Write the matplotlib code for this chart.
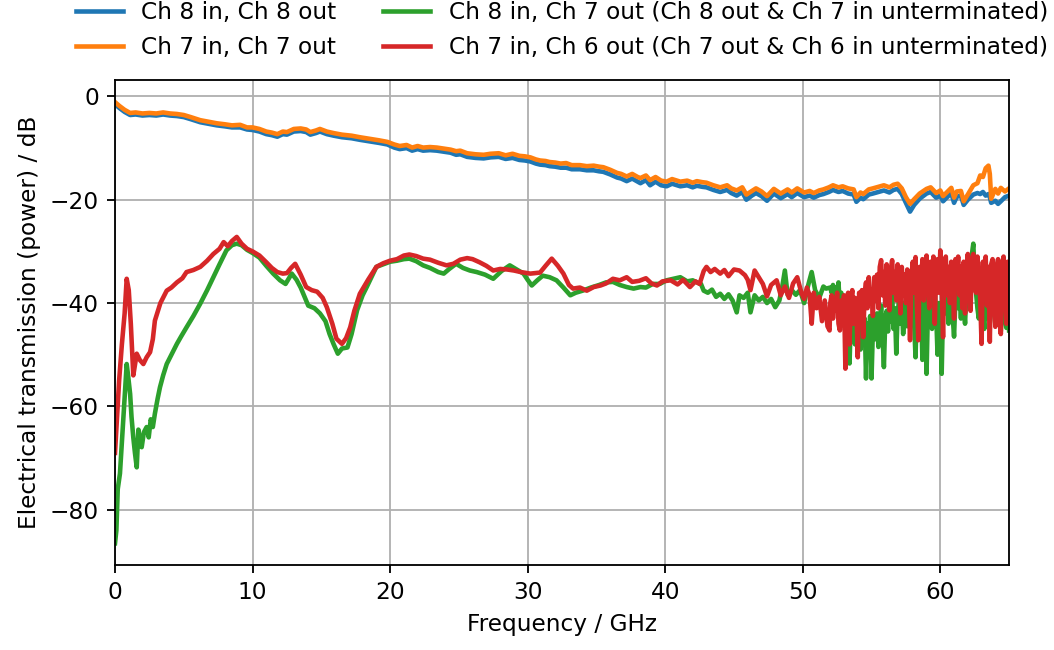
import matplotlib
matplotlib.use("Agg")
import matplotlib.pyplot as plt
import numpy as np

plt.rcParams["font.size"] = 10.2
plt.rcParams["lines.linewidth"] = 2.0

# Ch 8 in / Ch 8 out and Ch 7 in / Ch 7 out share one frequency grid (GHz)
freq_thru = [
    0, 0.3, 0.7, 1.1, 1.5, 2.0, 2.5, 3.0, 3.5, 4.0, 4.5, 5.0, 5.5, 6.2, 6.8, 7.4, 8.0, 8.5, 9.1, 9.6,
    10.0, 10.5, 11.0, 11.4, 11.8, 12.2, 12.5, 13.0, 13.5, 13.9, 14.2, 14.6, 14.9, 15.4, 15.9, 16.5, 17.2, 17.8, 18.5, 19.2,
    19.8, 20.3, 20.7, 21.2, 21.6, 22.0, 22.4, 22.9, 23.4, 23.9, 24.4, 24.8, 25.1, 25.6, 26.2, 26.8, 27.3, 27.9, 28.4, 28.9,
    29.4, 29.8, 30.2, 30.6, 30.9, 31.3, 31.6, 32.0, 32.4, 32.8, 33.2, 33.8, 34.3, 34.8, 35.2, 35.5, 36.0, 36.5, 36.8, 37.2,
    37.6, 38.0, 38.2, 38.6, 38.9, 39.3, 39.7, 40.1, 40.5, 41.1, 41.6, 42.0, 42.3, 42.7, 43.0, 43.5, 44.0, 44.5, 44.8, 45.2,
    45.6, 45.9, 46.3, 46.6, 47.0, 47.4, 47.9, 48.4, 48.9, 49.2, 49.6, 50.1, 50.5, 50.8, 51.2, 51.5, 51.9, 52.2, 52.6, 52.9,
    53.3, 53.7, 53.9, 54.2, 54.4, 54.8, 55.1, 55.5, 55.9, 56.3, 56.6, 56.9, 57.2, 57.5, 57.8, 58.1, 58.5, 59.0, 59.3, 59.7,
    60.0, 60.2, 60.5, 60.8, 61.0, 61.2, 61.5, 61.7, 62.0, 62.4, 62.7, 62.9, 63.1, 63.3, 63.5, 63.6, 63.7, 64.0, 64.2, 64.4,
    64.7, 65.0,
]
ch8_ch8 = [
    -1.5, -2.2, -3.0, -3.6, -3.5, -3.7, -3.6, -3.7, -3.5, -3.7, -3.8, -4.0, -4.4, -5.0, -5.3, -5.6, -5.8, -6.0, -6.0, -6.4,
    -6.5, -6.8, -7.3, -7.5, -7.8, -7.3, -7.4, -6.8, -6.7, -6.9, -7.4, -7.1, -6.8, -7.3, -7.6, -7.9, -8.1, -8.4, -8.7, -9.0,
    -9.3, -9.9, -10.2, -10.0, -10.5, -10.2, -10.5, -10.4, -10.5, -10.7, -10.9, -11.3, -11.2, -11.7, -11.9, -12.0, -11.8, -11.7, -12.1, -11.9,
    -12.3, -12.4, -12.6, -13.0, -13.2, -13.3, -13.5, -13.6, -13.8, -13.8, -14.1, -14.1, -14.3, -14.3, -14.5, -14.6, -15.1, -15.7, -15.9, -16.4,
    -15.9, -16.5, -16.8, -16.2, -17.2, -16.5, -17.2, -17.4, -16.9, -17.4, -17.2, -17.6, -17.3, -17.5, -17.6, -18.1, -18.5, -18.1, -18.7, -19.2,
    -18.5, -20.0, -19.2, -18.7, -19.3, -20.2, -18.8, -19.7, -18.9, -19.5, -18.7, -19.5, -19.2, -19.6, -19.1, -18.9, -18.5, -18.1, -18.5, -18.3,
    -18.8, -19.0, -20.4, -19.6, -19.9, -19.0, -18.8, -18.5, -18.2, -18.6, -18.1, -17.9, -18.9, -20.6, -22.3, -21.0, -19.8, -18.8, -18.5, -19.6,
    -19.2, -20.3, -19.5, -18.7, -20.6, -19.4, -19.2, -21.0, -20.0, -19.0, -18.7, -18.9, -18.5, -19.2, -18.9, -19.5, -20.6, -20.2, -20.8, -20.3,
    -19.5, -19.2,
]
ch7_ch7 = [
    -1.1, -1.8, -2.6, -3.2, -3.1, -3.3, -3.2, -3.3, -3.1, -3.3, -3.4, -3.6, -4.0, -4.6, -4.9, -5.2, -5.4, -5.6, -5.5, -6.0,
    -6.0, -6.3, -6.8, -7.0, -7.3, -6.8, -6.9, -6.3, -6.2, -6.4, -6.9, -6.6, -6.3, -6.8, -7.1, -7.4, -7.6, -7.9, -8.2, -8.5,
    -8.8, -9.3, -9.6, -9.4, -9.9, -9.6, -9.9, -9.8, -9.9, -10.1, -10.3, -10.6, -10.5, -11.0, -11.2, -11.3, -11.1, -11.0, -11.4, -11.1,
    -11.5, -11.6, -11.8, -12.2, -12.4, -12.5, -12.7, -12.8, -13.0, -12.9, -13.3, -13.3, -13.5, -13.4, -13.6, -13.7, -14.2, -14.8, -15.0, -15.5,
    -15.0, -15.6, -15.8, -15.3, -16.2, -15.6, -16.3, -16.5, -16.0, -16.5, -16.3, -16.7, -16.4, -16.6, -16.7, -17.2, -17.6, -17.2, -17.8, -18.2,
    -17.6, -19.0, -18.3, -17.8, -18.4, -19.3, -17.9, -18.8, -18.0, -18.6, -17.8, -18.6, -18.3, -18.7, -18.2, -18.0, -17.6, -17.2, -17.6, -17.4,
    -17.8, -18.0, -19.5, -18.6, -18.9, -18.0, -17.8, -17.5, -17.2, -17.6, -17.1, -16.9, -17.8, -19.5, -20.8, -19.9, -18.8, -17.9, -17.6, -18.7,
    -18.2, -19.3, -18.5, -17.7, -19.6, -18.4, -18.3, -20.3, -19.0, -17.2, -16.8, -15.3, -15.6, -13.9, -13.4, -15.0, -19.8, -17.9, -18.8, -17.7,
    -18.4, -17.8,
]

# Ch 8 in, Ch 7 out: 0 - 51.7 GHz (irregular) + 52.0 - 65.0 GHz (0.1 GHz steps)
freq_ch8_ch7_low = [
    0.0, 0.1, 0.2, 0.36, 0.5, 0.6, 0.75, 0.85, 0.95, 1.1, 1.2, 1.33, 1.45, 1.58, 1.7, 1.82, 1.94, 2.1, 2.3, 2.45,
    2.6, 2.75, 2.9, 3.1, 3.27, 3.5, 3.76, 4.1, 4.5, 4.8, 5.2, 5.7, 6.2, 6.7, 7.15, 7.6, 8.1, 8.5, 8.85, 9.2,
    9.6, 10.0, 10.5, 11.0, 11.5, 12.0, 12.4, 12.85, 13.2, 13.5, 14.05, 14.5, 14.9, 15.3, 15.6, 15.9, 16.2, 16.5, 16.9, 17.2,
    17.6, 18.0, 18.3, 19.0, 19.5, 20.0, 20.5, 21.0, 21.4, 21.9, 22.4, 22.9, 23.5, 23.9, 24.3, 24.8, 25.3, 25.8, 26.3, 26.9,
    27.5, 28.1, 28.7, 29.2, 29.7, 30.0, 30.3, 30.7, 31.1, 31.6, 32.1, 32.6, 33.1, 33.5, 34.0, 34.6, 35.2, 35.7, 36.2, 36.7,
    37.2, 37.7, 38.2, 38.6, 39.1, 39.6, 40.1, 40.6, 41.1, 41.6, 42.0, 42.3, 42.6, 42.8, 43.1, 43.4, 43.7, 44.0, 44.3, 44.6,
    44.9, 45.2, 45.4, 45.7, 46.0, 46.2, 46.5, 46.8, 47.1, 47.4, 47.7, 48.0, 48.3, 48.5, 48.7, 48.9, 49.2, 49.5, 49.8, 50.1,
    50.4, 50.65, 50.9, 51.2, 51.5, 51.7,
]
ch8_ch7_low = [
    -86.5, -84, -76, -73, -67, -63, -56, -51.8, -54, -57.6, -62, -66, -69, -71.8, -64.5, -66.5, -67.9, -65, -64, -66,
    -62.5, -64, -61.4, -58.5, -56.3, -54, -51.8, -50, -47.9, -46.5, -44.7, -42.5, -40.1, -37.5, -35, -32.5, -29.8, -28.8, -28.5, -28.8,
    -29.7, -30.3, -31.2, -32.8, -34.3, -35.6, -36.3, -34.3, -35.5, -37.0, -40.5, -41.0, -42.0, -43.5, -46.0, -48.0, -49.8, -48.8, -48.6, -46.0,
    -41.4, -38.5, -36.9, -33.0, -32.5, -32.0, -31.8, -31.5, -31.4, -31.9, -32.7, -33.2, -34.0, -34.3, -33.4, -32.4, -33.2, -33.7, -34.0, -34.5,
    -35.3, -33.8, -32.7, -33.5, -34.3, -35.5, -36.6, -35.6, -34.7, -35.0, -35.6, -37.0, -38.5, -38.0, -37.6, -37.0, -36.5, -36.0, -35.9, -36.5,
    -36.9, -37.2, -36.9, -37.0, -36.3, -36.3, -35.6, -35.3, -35.0, -35.8, -35.6, -36.0, -36.3, -37.6, -38.0, -37.4, -38.8, -38.2, -39.2, -38.3,
    -39.5, -41.8, -38.5, -39.0, -38.0, -41.8, -38.5, -39.5, -38.8, -40.0, -39.2, -40.8, -39.5, -37.0, -33.7, -38.4, -37.5, -38.4, -37.5, -40.0,
    -36.5, -34.0, -37.5, -39.0, -36.8, -37.2,
]
ch8_ch7_high = [
    -37.0, -38.0, -36.5, -39.5, -37.0, -38.5, -36.0, -41.0, -38.0, -43.0,
    -39.0, -46.0, -42.0, -47.0, -51.7, -43.0, -46.0, -41.5, -48.0, -43.0,
    -40.5, -46.0, -49.0, -42.0, -45.0, -43.0, -54.6, -44.0, -46.5, -42.5,
    -54.6, -45.0, -43.0, -47.0, -42.0, -48.5, -44.0, -40.5, -46.0, -52.4,
    -43.0, -41.5, -45.5, -40.0, -43.5, -38.5, -45.0, -41.0, -49.8, -42.0,
    -39.5, -44.0, -40.0, -46.0, -41.5, -39.5, -44.5, -40.0, -37.0, -42.5,
    -38.5, -44.0, -50.5, -40.0, -36.5, -43.0, -39.0, -51.0, -41.0, -38.0,
    -53.7, -41.0, -37.5, -43.5, -45.0, -39.0, -38.0, -42.0, -50.0, -40.0,
    -43.5, -53.7, -41.0, -38.5, -42.0, -37.0, -44.0, -40.5, -38.0, -42.5,
    -46.5, -39.0, -36.5, -41.0, -38.5, -43.0, -38.0, -40.5, -44.0, -37.5,
    -39.5, -36.0, -33.0, -30.5, -28.5, -35.0, -38.0, -41.0, -43.0, -38.5,
    -37.5, -42.0, -45.0, -39.0, -38.5, -43.0, -40.5, -37.0, -36.0, -41.5,
    -44.0, -39.0, -38.0, -42.5, -45.5, -40.0, -39.0, -43.0, -44.8, -41.0,
    -45.3,
]

# Ch 7 in, Ch 6 out: 0 - 51.95 GHz (irregular) + 52.0 - 65.0 GHz (0.1 GHz steps)
freq_ch7_ch6_low = [
    0.0, 0.15, 0.3, 0.5, 0.7, 0.85, 1.0, 1.15, 1.33, 1.45, 1.58, 1.8, 2.06, 2.3, 2.55, 2.75, 2.9, 3.3, 3.76, 4.1,
    4.5, 4.9, 5.2, 5.7, 6.2, 6.7, 7.15, 7.6, 7.9, 8.2, 8.5, 8.85, 9.2, 9.6, 10.0, 10.5, 11.0, 11.4, 11.8, 12.2,
    12.5, 12.8, 13.1, 13.5, 13.9, 14.3, 14.7, 15.1, 15.4, 15.8, 16.1, 16.5, 16.8, 17.1, 17.4, 17.8, 18.4, 19.0, 19.5, 20.0,
    20.5, 21.0, 21.4, 21.9, 22.4, 22.9, 23.5, 24.1, 24.6, 25.1, 25.6, 26.0, 26.5, 27.0, 27.5, 28.0, 28.5, 29.0, 29.5, 30.2,
    30.9, 31.3, 31.75, 32.2, 32.6, 33.0, 33.3, 33.8, 34.3, 34.8, 35.3, 35.7, 36.2, 36.7, 37.2, 37.6, 38.1, 38.6, 39.0, 39.4,
    39.8, 40.4, 40.9, 41.3, 41.8, 42.2, 42.5, 42.8, 43.0, 43.3, 43.6, 44.0, 44.3, 44.6, 45.0, 45.4, 45.8, 46.0, 46.2, 46.5,
    46.8, 47.1, 47.4, 47.7, 48.1, 48.4, 48.7, 49.0, 49.3, 49.6, 49.9, 50.1, 50.3, 50.5, 50.65, 50.8, 51.0, 51.2, 51.4, 51.6,
    51.8, 51.95,
]
ch7_ch6_low = [
    -69, -62, -55, -48, -42, -35.3, -37.5, -44, -54, -52, -49.8, -51, -51.8, -50.5, -49.5, -47, -43.4, -40, -37.6, -37,
    -36, -35.2, -34, -33.6, -33, -31.8, -30.5, -29.5, -28.2, -29, -28, -27.2, -28.5, -29.5, -30, -30.8, -32.1, -33.2, -34, -34.3,
    -34.2, -33.2, -32.4, -34.5, -36.9, -37.5, -37.8, -39, -40.8, -44, -46.9, -47.9, -46.8, -44.7, -41.5, -38.2, -35.5, -33, -32.3, -31.8,
    -31.5, -30.8, -30.6, -30.9, -31.4, -31.6, -32.2, -32.7, -32.4, -31.6, -31.3, -31.5, -32.1, -32.8, -33.7, -33.4, -33.5, -33.7, -34.0, -34.3,
    -34.1, -32.8, -31.4, -32.8, -34.3, -36.5, -37.2, -37.0, -37.6, -36.9, -36.6, -36.2, -35.3, -35.6, -35.0, -35.9, -35.7, -35.2, -36.2, -36.6,
    -35.8, -35.6, -36.4, -35.5, -36.9, -35.8, -36.3, -33.8, -33.0, -34.0, -33.4, -34.3, -33.6, -34.8, -33.5, -33.7, -34.6, -35.5, -37.5, -33.7,
    -35.0, -36.3, -38.7, -36.5, -35.6, -38.5, -36.8, -39.0, -36.2, -35.0, -38.0, -39.2, -37.0, -38.5, -44.0, -38.0, -41.0, -38.8, -43.5, -39.5,
    -44.5, -45.3,
]
ch7_ch6_high = [
    -40.0, -38.5, -43.0, -39.0, -41.5, -38.0, -44.0, -45.3, -39.5, -42.0,
    -38.5, -52.7, -40.0, -38.0, -48.0, -39.5, -37.5, -44.0, -39.0, -41.0,
    -50.5, -38.0, -40.5, -37.5, -46.6, -38.0, -36.0, -41.0, -35.0, -40.0,
    -37.5, -42.5, -35.0, -39.5, -34.5, -41.0, -33.0, -31.7, -38.5, -34.0,
    -40.5, -32.5, -37.0, -41.4, -33.5, -31.7, -38.0, -34.0, -39.5, -32.5,
    -36.0, -42.0, -33.0, -38.5, -34.5, -40.0, -33.5, -36.5, -47.2, -35.0,
    -32.0, -38.0, -31.1, -40.5, -47.2, -33.0, -36.5, -31.5, -39.5, -33.0,
    -30.8, -37.0, -41.0, -32.0, -36.0, -31.0, -44.0, -33.5, -31.5, -38.0,
    -29.8, -36.0, -46.6, -32.0, -31.0, -38.5, -33.0, -40.0, -32.0, -36.5,
    -43.0, -31.5, -35.0, -31.0, -38.5, -33.0, -41.0, -32.0, -42.0, -34.5,
    -30.5, -37.0, -41.5, -31.5, -30.5, -36.0, -38.0, -31.0, -34.5, -39.0,
    -47.9, -32.0, -36.5, -31.0, -40.5, -33.0, -47.5, -32.5, -31.5, -38.0,
    -44.6, -33.0, -31.5, -39.5, -46.0, -32.5, -31.0, -37.0, -44.0, -32.0,
    -33.0,
]

labels = [
    "Ch 8 in, Ch 8 out",
    "Ch 7 in, Ch 7 out",
    "Ch 8 in, Ch 7 out (Ch 8 out & Ch 7 in unterminated)",
    "Ch 7 in, Ch 6 out (Ch 7 out & Ch 6 in unterminated)",
]

freq_high = np.round(np.arange(520, 651) / 10.0, 1)
freq_ch8_ch7 = np.concatenate([freq_ch8_ch7_low, freq_high])
ch8_ch7 = np.concatenate([ch8_ch7_low, ch8_ch7_high])
freq_ch7_ch6 = np.concatenate([freq_ch7_ch6_low, freq_high])
ch7_ch6 = np.concatenate([ch7_ch6_low, ch7_ch6_high])

fig = plt.figure(figsize=(6.4, 3.947), dpi=164.7)
ax = fig.add_axes([0.1091, 0.1308, 0.8482, 0.7462])

ax.plot(freq_thru, ch8_ch8, label=labels[0])
ax.plot(freq_thru, ch7_ch7, label=labels[1])
ax.plot(freq_ch8_ch7, ch8_ch7, label=labels[2])
ax.plot(freq_ch7_ch6, ch7_ch6, label=labels[3])

ax.set_xlim(0, 65)
ax.set_ylim(-90.7, 3.2)
ax.set_xticks([0, 10, 20, 30, 40, 50, 60])
ax.set_yticks([0, -20, -40, -60, -80])
ax.grid(True)
ax.set_xlabel("Frequency / GHz")
ax.set_ylabel("Electrical transmission (power) / dB")
ax.legend(loc="lower center", bbox_to_anchor=(0.5, 1.0), ncol=2, frameon=False)

fig.savefig("out.png", dpi=164.7)
